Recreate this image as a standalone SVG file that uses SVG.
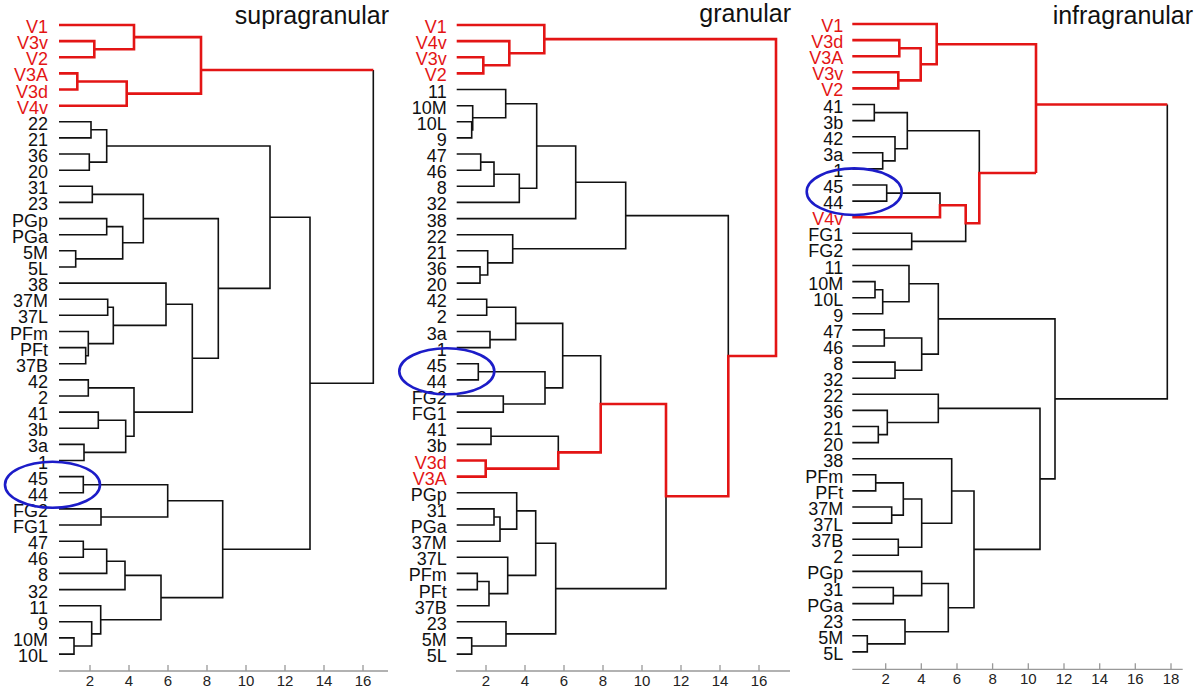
<svg xmlns="http://www.w3.org/2000/svg" width="1200" height="687" viewBox="0 0 1200 687">
<style>
.bg{fill:#fff}
.lk{fill:none;stroke:#111;stroke-width:1.6}
.rd{fill:none;stroke:#e31515;stroke-width:2.6}
.lb{font-family:"Liberation Sans",Arial,sans-serif;font-size:18px;fill:#111;text-anchor:end}
.lr{fill:#e31515}
.tt{font-family:"Liberation Sans",Arial,sans-serif;font-size:25px;fill:#111;text-anchor:end}
.ax{fill:none;stroke:#999;stroke-width:1.3}
.tk{font-family:"Liberation Sans",Arial,sans-serif;font-size:15px;fill:#222;text-anchor:middle}
.el{fill:none;stroke:#1c1cc8;stroke-width:2.6}
</style>
<rect class="bg" x="0" y="0" width="1200" height="687"/>

<!-- ===== Panel 1: supragranular ===== -->
<g id="supragranular">
<text class="tt" x="389" y="24">supragranular</text>
<g id="supra-leaves" transform="translate(0,1)">
<g id="s-V1"><text class="lb lr" x="48" y="32">V1</text></g>
<g id="s-V3v"><text class="lb lr" x="48" y="48.1">V3v</text></g>
<g id="s-V2"><text class="lb lr" x="48" y="64.3">V2</text></g>
<g id="s-V3A"><text class="lb lr" x="48" y="80.4">V3A</text></g>
<g id="s-V3d"><text class="lb lr" x="48" y="96.5">V3d</text></g>
<g id="s-V4v"><text class="lb lr" x="48" y="112.7">V4v</text></g>
<g id="s-22"><text class="lb" x="48" y="128.8">22</text></g>
<g id="s-21"><text class="lb" x="48" y="144.9">21</text></g>
<g id="s-36"><text class="lb" x="48" y="161">36</text></g>
<g id="s-20"><text class="lb" x="48" y="177.2">20</text></g>
<g id="s-31"><text class="lb" x="48" y="193.3">31</text></g>
<g id="s-23"><text class="lb" x="48" y="209.4">23</text></g>
<g id="s-PGp"><text class="lb" x="48" y="225.6">PGp</text></g>
<g id="s-PGa"><text class="lb" x="48" y="241.7">PGa</text></g>
<g id="s-5M"><text class="lb" x="48" y="257.8">5M</text></g>
<g id="s-5L"><text class="lb" x="48" y="274">5L</text></g>
<g id="s-38"><text class="lb" x="48" y="290.1">38</text></g>
<g id="s-37M"><text class="lb" x="48" y="306.2">37M</text></g>
<g id="s-37L"><text class="lb" x="48" y="322.3">37L</text></g>
<g id="s-PFm"><text class="lb" x="48" y="338.5">PFm</text></g>
<g id="s-PFt"><text class="lb" x="48" y="354.6">PFt</text></g>
<g id="s-37B"><text class="lb" x="48" y="370.7">37B</text></g>
<g id="s-42"><text class="lb" x="48" y="386.9">42</text></g>
<g id="s-2"><text class="lb" x="48" y="403">2</text></g>
<g id="s-41"><text class="lb" x="48" y="419.1">41</text></g>
<g id="s-3b"><text class="lb" x="48" y="435.3">3b</text></g>
<g id="s-3a"><text class="lb" x="48" y="451.4">3a</text></g>
<g id="s-1"><text class="lb" x="48" y="467.5">1</text></g>
<g id="s-45"><text class="lb" x="48" y="483.6">45</text></g>
<g id="s-44"><text class="lb" x="48" y="499.8">44</text></g>
<g id="s-FG2"><text class="lb" x="48" y="515.9">FG2</text></g>
<g id="s-FG1"><text class="lb" x="48" y="532">FG1</text></g>
<g id="s-47"><text class="lb" x="48" y="548.2">47</text></g>
<g id="s-46"><text class="lb" x="48" y="564.3">46</text></g>
<g id="s-8"><text class="lb" x="48" y="580.4">8</text></g>
<g id="s-32"><text class="lb" x="48" y="596.6">32</text></g>
<g id="s-11"><text class="lb" x="48" y="612.7">11</text></g>
<g id="s-9"><text class="lb" x="48" y="628.8">9</text></g>
<g id="s-10M"><text class="lb" x="48" y="644.9">10M</text></g>
<g id="s-10L"><text class="lb" x="48" y="661.1">10L</text></g>
</g>
<g id="supra-links">
<path class="lk" d="M373.3 70 V383.2 H310"/>
<path class="lk" d="M59 121.8 H91 V137.9 H59"/>
<path class="lk" d="M59 154 H89.3 V170.2 H59"/>
<path class="lk" d="M91 129.8 H106.7 V162.1 H89.3"/>
<path class="lk" d="M59 186.3 H92.3 V202.4 H59"/>
<path class="lk" d="M59 218.6 H106.7 V234.7 H59"/>
<path class="lk" d="M59 250.8 H75.7 V267 H59"/>
<path class="lk" d="M106.7 226.6 H122.7 V258.9 H75.7"/>
<path class="lk" d="M92.3 194.4 H143.3 V242.8 H122.7"/>
<path class="lk" d="M59 299.2 H107.7 V315.3 H59"/>
<path class="lk" d="M59 347.6 H85.7 V363.7 H59"/>
<path class="lk" d="M59 331.5 H88.3 V355.7 H85.7"/>
<path class="lk" d="M107.7 307.3 H113.3 V343.6 H88.3"/>
<path class="lk" d="M59 283.1 H166 V325.4 H113.3"/>
<path class="lk" d="M59 379.9 H88.3 V396 H59"/>
<path class="lk" d="M59 412.1 H98.3 V428.3 H59"/>
<path class="lk" d="M59 444.4 H84 V460.5 H59"/>
<path class="lk" d="M98.3 420.2 H125.7 V452.4 H84"/>
<path class="lk" d="M88.3 387.9 H134 V436.3 H125.7"/>
<path class="lk" d="M166 304.3 H192.3 V412.1 H134"/>
<path class="lk" d="M143.3 218.6 H218.3 V358.2 H192.3"/>
<path class="lk" d="M106.7 146 H270 V288.4 H218.3"/>
<path class="lk" d="M59 476.6 H83.3 V492.8 H59"/>
<path class="lk" d="M59 508.9 H101 V525 H59"/>
<path class="lk" d="M83.3 484.7 H167.7 V517 H101"/>
<path class="lk" d="M59 541.2 H83.3 V557.3 H59"/>
<path class="lk" d="M83.3 549.2 H106.7 V573.4 H59"/>
<path class="lk" d="M106.7 561.3 H125 V589.6 H59"/>
<path class="lk" d="M59 637.9 H74 V654.1 H59"/>
<path class="lk" d="M59 621.8 H91.7 V646 H74"/>
<path class="lk" d="M59 605.7 H100.7 V633.9 H91.7"/>
<path class="lk" d="M125 575.4 H161 V619.8 H100.7"/>
<path class="lk" d="M167.7 500.8 H222.7 V597.6 H161"/>
<path class="lk" d="M270 217.2 H310 V549.2 H222.7"/>
<path class="rd" d="M59 41.1 H94.3 V57.3 H59"/>
<path class="rd" d="M59 25 H134 V49.2 H94.3"/>
<path class="rd" d="M59 73.4 H77.3 V89.5 H59"/>
<path class="rd" d="M77.3 81.5 H126.7 V105.7 H59"/>
<path class="rd" d="M134 37.1 H201 V93.6 H126.7"/>
<path class="rd" d="M201 70 H373.3"/>
</g>
<ellipse class="el" cx="52.5" cy="484.7" rx="47.5" ry="23"/>
<g id="supra-axis">
<path class="ax" d="M59 671 H388 M90 671 v-6 M129 671 v-6 M168 671 v-6 M207 671 v-6 M246 671 v-6 M285 671 v-6 M324 671 v-6 M363 671 v-6"/>
<text class="tk" x="90" y="686">2</text><text class="tk" x="129" y="686">4</text><text class="tk" x="168" y="686">6</text><text class="tk" x="207" y="686">8</text><text class="tk" x="246" y="686">10</text><text class="tk" x="285" y="686">12</text><text class="tk" x="324" y="686">14</text><text class="tk" x="363" y="686">16</text>
</g>
</g>

<!-- ===== Panel 2: granular ===== -->
<g id="granular">
<text class="tt" x="791" y="22">granular</text>
<g id="gran-leaves" transform="translate(0,1)">
<g id="g-V1"><text class="lb lr" x="446.7" y="32">V1</text></g>
<g id="g-V4v"><text class="lb lr" x="446.7" y="48.1">V4v</text></g>
<g id="g-V3v"><text class="lb lr" x="446.7" y="64.3">V3v</text></g>
<g id="g-V2"><text class="lb lr" x="446.7" y="80.4">V2</text></g>
<g id="g-11"><text class="lb" x="446.7" y="96.5">11</text></g>
<g id="g-10M"><text class="lb" x="446.7" y="112.7">10M</text></g>
<g id="g-10L"><text class="lb" x="446.7" y="128.8">10L</text></g>
<g id="g-9"><text class="lb" x="446.7" y="144.9">9</text></g>
<g id="g-47"><text class="lb" x="446.7" y="161">47</text></g>
<g id="g-46"><text class="lb" x="446.7" y="177.2">46</text></g>
<g id="g-8"><text class="lb" x="446.7" y="193.3">8</text></g>
<g id="g-32"><text class="lb" x="446.7" y="209.4">32</text></g>
<g id="g-38"><text class="lb" x="446.7" y="225.6">38</text></g>
<g id="g-22"><text class="lb" x="446.7" y="241.7">22</text></g>
<g id="g-21"><text class="lb" x="446.7" y="257.8">21</text></g>
<g id="g-36"><text class="lb" x="446.7" y="274">36</text></g>
<g id="g-20"><text class="lb" x="446.7" y="290.1">20</text></g>
<g id="g-42"><text class="lb" x="446.7" y="306.2">42</text></g>
<g id="g-2"><text class="lb" x="446.7" y="322.3">2</text></g>
<g id="g-3a"><text class="lb" x="446.7" y="338.5">3a</text></g>
<g id="g-1"><text class="lb" x="446.7" y="354.6">1</text></g>
<g id="g-45"><text class="lb" x="446.7" y="370.7">45</text></g>
<g id="g-44"><text class="lb" x="446.7" y="386.9">44</text></g>
<g id="g-FG2"><text class="lb" x="446.7" y="403">FG2</text></g>
<g id="g-FG1"><text class="lb" x="446.7" y="419.1">FG1</text></g>
<g id="g-41"><text class="lb" x="446.7" y="435.3">41</text></g>
<g id="g-3b"><text class="lb" x="446.7" y="451.4">3b</text></g>
<g id="g-V3d"><text class="lb lr" x="446.7" y="467.5">V3d</text></g>
<g id="g-V3A"><text class="lb lr" x="446.7" y="483.6">V3A</text></g>
<g id="g-PGp"><text class="lb" x="446.7" y="499.8">PGp</text></g>
<g id="g-31"><text class="lb" x="446.7" y="515.9">31</text></g>
<g id="g-PGa"><text class="lb" x="446.7" y="532">PGa</text></g>
<g id="g-37M"><text class="lb" x="446.7" y="548.2">37M</text></g>
<g id="g-37L"><text class="lb" x="446.7" y="564.3">37L</text></g>
<g id="g-PFm"><text class="lb" x="446.7" y="580.4">PFm</text></g>
<g id="g-PFt"><text class="lb" x="446.7" y="596.6">PFt</text></g>
<g id="g-37B"><text class="lb" x="446.7" y="612.7">37B</text></g>
<g id="g-23"><text class="lb" x="446.7" y="628.8">23</text></g>
<g id="g-5M"><text class="lb" x="446.7" y="644.9">5M</text></g>
<g id="g-5L"><text class="lb" x="446.7" y="661.1">5L</text></g>
</g>
<g id="gran-links">
<path class="lk" d="M456.7 121.8 H471.7 V137.9 H456.7"/>
<path class="lk" d="M456.7 105.7 H472.7 V129.9 H471.7"/>
<path class="lk" d="M456.7 89.5 H505.7 V117.8 H472.7"/>
<path class="lk" d="M456.7 154 H480.7 V170.2 H456.7"/>
<path class="lk" d="M480.7 162.1 H494 V186.3 H456.7"/>
<path class="lk" d="M494 174.2 H519.3 V202.4 H456.7"/>
<path class="lk" d="M505.7 103.7 H536.7 V188.3 H519.3"/>
<path class="lk" d="M536.7 146 H575.7 V218.6 H456.7"/>
<path class="lk" d="M456.7 266.9 H480 V283.1 H456.7"/>
<path class="lk" d="M456.7 250.8 H487.7 V275 H480"/>
<path class="lk" d="M456.7 234.7 H512.7 V262.9 H487.7"/>
<path class="lk" d="M575.7 182.3 H625.7 V248.8 H512.7"/>
<path class="lk" d="M456.7 299.2 H486.7 V315.3 H456.7"/>
<path class="lk" d="M456.7 331.5 H490 V347.6 H456.7"/>
<path class="lk" d="M486.7 307.3 H515.7 V339.6 H490"/>
<path class="lk" d="M456.7 363.7 H478.3 V379.9 H456.7"/>
<path class="lk" d="M456.7 396 H503.3 V412.1 H456.7"/>
<path class="lk" d="M478.3 371.8 H545 V404 H503.3"/>
<path class="lk" d="M515.7 323.4 H562.7 V387.9 H545"/>
<path class="lk" d="M456.7 428.3 H491 V444.4 H456.7"/>
<path class="lk" d="M491 436.3 H558.3 V452.4"/>
<path class="lk" d="M562.7 355.7 H600.7 V404"/>
<path class="lk" d="M625.7 215.6 H728.3 V356"/>
<path class="lk" d="M555.7 588.6 H666 V496.3"/>
<path class="lk" d="M456.7 508.9 H494 V525 H456.7"/>
<path class="lk" d="M494 517 H500 V541.2 H456.7"/>
<path class="lk" d="M456.7 492.8 H516.7 V529.1 H500"/>
<path class="lk" d="M456.7 573.4 H477.3 V589.6 H456.7"/>
<path class="lk" d="M477.3 581.5 H489 V605.7 H456.7"/>
<path class="lk" d="M456.7 557.3 H507.7 V593.6 H489"/>
<path class="lk" d="M516.7 510.9 H535.7 V575.4 H507.7"/>
<path class="lk" d="M456.7 637.9 H471.7 V654.1 H456.7"/>
<path class="lk" d="M456.7 621.8 H506 V646 H471.7"/>
<path class="lk" d="M535.7 543.2 H555.7 V633.9 H506"/>
<path class="rd" d="M456.7 57.3 H483.3 V73.4 H456.7"/>
<path class="rd" d="M456.7 41.1 H509.3 V65.3 H483.3"/>
<path class="rd" d="M456.7 25 H544.3 V53.2 H509.3"/>
<path class="rd" d="M456.7 460.5 H485.7 V476.6 H456.7"/>
<path class="rd" d="M544.3 39.1 H776 V356 H728.3 V496.3 H666 V404 H600.7 V452.4 H558.3 V468.6 H485.7"/>
</g>
<ellipse class="el" cx="446.8" cy="371.3" rx="47.5" ry="23"/>
<g id="gran-axis">
<path class="ax" d="M456 671 H790 M486 671 v-6 M525 671 v-6 M564 671 v-6 M603 671 v-6 M642 671 v-6 M681 671 v-6 M720 671 v-6 M759 671 v-6"/>
<text class="tk" x="486" y="686">2</text><text class="tk" x="525" y="686">4</text><text class="tk" x="564" y="686">6</text><text class="tk" x="603" y="686">8</text><text class="tk" x="642" y="686">10</text><text class="tk" x="681" y="686">12</text><text class="tk" x="720" y="686">14</text><text class="tk" x="759" y="686">16</text>
</g>
</g>

<!-- ===== Panel 3: infragranular ===== -->
<g id="infragranular">
<text class="tt" x="1193" y="24">infragranular</text>
<g id="infra-leaves" transform="translate(0,1)">
<g id="i-V1"><text class="lb lr" x="843.3" y="31">V1</text></g>
<g id="i-V3d"><text class="lb lr" x="843.3" y="47.1">V3d</text></g>
<g id="i-V3A"><text class="lb lr" x="843.3" y="63.2">V3A</text></g>
<g id="i-V3v"><text class="lb lr" x="843.3" y="79.3">V3v</text></g>
<g id="i-V2"><text class="lb lr" x="843.3" y="95.4">V2</text></g>
<g id="i-41"><text class="lb" x="843.3" y="111.5">41</text></g>
<g id="i-3b"><text class="lb" x="843.3" y="127.6">3b</text></g>
<g id="i-42"><text class="lb" x="843.3" y="143.7">42</text></g>
<g id="i-3a"><text class="lb" x="843.3" y="159.8">3a</text></g>
<g id="i-1"><text class="lb" x="843.3" y="175.9">1</text></g>
<g id="i-45"><text class="lb" x="843.3" y="192">45</text></g>
<g id="i-44"><text class="lb" x="843.3" y="208.1">44</text></g>
<g id="i-V4v"><text class="lb lr" x="843.3" y="224.2">V4v</text></g>
<g id="i-FG1"><text class="lb" x="843.3" y="240.3">FG1</text></g>
<g id="i-FG2"><text class="lb" x="843.3" y="256.4">FG2</text></g>
<g id="i-11"><text class="lb" x="843.3" y="272.5">11</text></g>
<g id="i-10M"><text class="lb" x="843.3" y="288.6">10M</text></g>
<g id="i-10L"><text class="lb" x="843.3" y="304.7">10L</text></g>
<g id="i-9"><text class="lb" x="843.3" y="320.8">9</text></g>
<g id="i-47"><text class="lb" x="843.3" y="336.9">47</text></g>
<g id="i-46"><text class="lb" x="843.3" y="353">46</text></g>
<g id="i-8"><text class="lb" x="843.3" y="369.1">8</text></g>
<g id="i-32"><text class="lb" x="843.3" y="385.2">32</text></g>
<g id="i-22"><text class="lb" x="843.3" y="401.3">22</text></g>
<g id="i-36"><text class="lb" x="843.3" y="417.4">36</text></g>
<g id="i-21"><text class="lb" x="843.3" y="433.5">21</text></g>
<g id="i-20"><text class="lb" x="843.3" y="449.6">20</text></g>
<g id="i-38"><text class="lb" x="843.3" y="465.7">38</text></g>
<g id="i-PFm"><text class="lb" x="843.3" y="481.8">PFm</text></g>
<g id="i-PFt"><text class="lb" x="843.3" y="497.9">PFt</text></g>
<g id="i-37M"><text class="lb" x="843.3" y="514">37M</text></g>
<g id="i-37L"><text class="lb" x="843.3" y="530.1">37L</text></g>
<g id="i-37B"><text class="lb" x="843.3" y="546.2">37B</text></g>
<g id="i-2"><text class="lb" x="843.3" y="562.3">2</text></g>
<g id="i-PGp"><text class="lb" x="843.3" y="578.4">PGp</text></g>
<g id="i-31"><text class="lb" x="843.3" y="594.5">31</text></g>
<g id="i-PGa"><text class="lb" x="843.3" y="610.6">PGa</text></g>
<g id="i-23"><text class="lb" x="843.3" y="626.7">23</text></g>
<g id="i-5M"><text class="lb" x="843.3" y="642.8">5M</text></g>
<g id="i-5L"><text class="lb" x="843.3" y="658.9">5L</text></g>
</g>
<g id="infra-links">
<path class="lk" d="M852.3 104.5 H874.3 V120.6 H852.3"/>
<path class="lk" d="M852.3 152.8 H882.7 V168.9 H852.3"/>
<path class="lk" d="M852.3 136.7 H895 V160.9 H882.7"/>
<path class="lk" d="M874.3 112.6 H907.3 V148.8 H895"/>
<path class="lk" d="M907.3 130.7 H979.3 V173"/>
<path class="lk" d="M852.3 185 H886.7 V201.1 H852.3"/>
<path class="lk" d="M886.7 193.1 H940 V205.2"/>
<path class="lk" d="M852.3 233.3 H911.7 V249.4 H852.3"/>
<path class="lk" d="M911.7 241.4 H965.7 V223.3"/>
<path class="lk" d="M852.3 281.6 H875 V297.7 H852.3"/>
<path class="lk" d="M875 289.7 H882.7 V313.8 H852.3"/>
<path class="lk" d="M852.3 265.5 H909 V301.8 H882.7"/>
<path class="lk" d="M852.3 329.9 H884.3 V346 H852.3"/>
<path class="lk" d="M852.3 362.1 H895 V378.2 H852.3"/>
<path class="lk" d="M884.3 338 H921.7 V370.2 H895"/>
<path class="lk" d="M909 283.7 H938.3 V354.1 H921.7"/>
<path class="lk" d="M852.3 426.5 H878.3 V442.6 H852.3"/>
<path class="lk" d="M852.3 410.4 H887.3 V434.6 H878.3"/>
<path class="lk" d="M852.3 394.3 H938.3 V422.5 H887.3"/>
<path class="lk" d="M852.3 474.8 H875.7 V490.9 H852.3"/>
<path class="lk" d="M852.3 507 H891.7 V523.1 H852.3"/>
<path class="lk" d="M875.7 482.9 H903.3 V515.1 H891.7"/>
<path class="lk" d="M852.3 539.2 H898.3 V555.3 H852.3"/>
<path class="lk" d="M903.3 499 H921.7 V547.3 H898.3"/>
<path class="lk" d="M852.3 458.7 H951.7 V523.2 H921.7"/>
<path class="lk" d="M852.3 587.5 H893.3 V603.6 H852.3"/>
<path class="lk" d="M852.3 571.4 H921.7 V595.6 H893.3"/>
<path class="lk" d="M852.3 635.8 H867.3 V651.9 H852.3"/>
<path class="lk" d="M852.3 619.7 H905 V643.9 H867.3"/>
<path class="lk" d="M921.7 583.5 H948.3 V631.8 H905"/>
<path class="lk" d="M951.7 491 H974 V607.7 H948.3"/>
<path class="lk" d="M938.3 408.4 H1040 V549.4 H974"/>
<path class="lk" d="M938.3 318.9 H1055 V478.9 H1040"/>
<path class="lk" d="M1167.3 104.5 V398.9 H1055"/>
<path class="rd" d="M852.3 40.1 H899.3 V56.2 H852.3"/>
<path class="rd" d="M852.3 72.3 H898.3 V88.4 H852.3"/>
<path class="rd" d="M899.3 48.2 H920.7 V80.4 H898.3"/>
<path class="rd" d="M852.3 24 H936.7 V64.3 H920.7"/>
<path class="rd" d="M936.7 44.2 H1036 V173"/>
<path class="rd" d="M852.3 217.2 H940 V205.2 H965.7 V223.3 H979.3 V173 H1036"/>
<path class="rd" d="M1036 104.5 H1167.3"/>
</g>
<ellipse class="el" cx="854.2" cy="191.7" rx="47.5" ry="23.3"/>
<g id="infra-axis">
<path class="ax" d="M852.3 669.3 H1182.7 M885.7 669.3 v-6 M921.3 669.3 v-6 M957 669.3 v-6 M992.6 669.3 v-6 M1028.3 669.3 v-6 M1064 669.3 v-6 M1099.7 669.3 v-6 M1135.3 669.3 v-6 M1171 669.3 v-6"/>
<text class="tk" x="885.7" y="684">2</text><text class="tk" x="921.3" y="684">4</text><text class="tk" x="957" y="684">6</text><text class="tk" x="992.6" y="684">8</text><text class="tk" x="1028.3" y="684">10</text><text class="tk" x="1064" y="684">12</text><text class="tk" x="1099.7" y="684">14</text><text class="tk" x="1135.3" y="684">16</text><text class="tk" x="1171" y="684">18</text>
</g>
</g>
</svg>
